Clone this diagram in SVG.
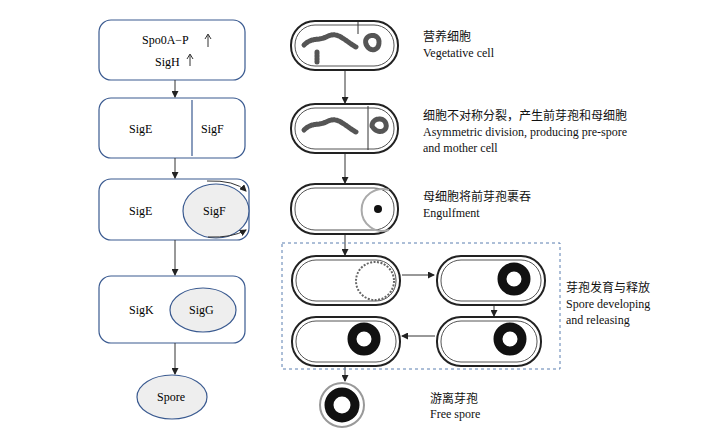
<svg xmlns="http://www.w3.org/2000/svg" width="710" height="441" viewBox="0 0 710 441">
<style>
.box{fill:#fff;stroke:#3a5a90;stroke-width:1.2}
.ell{fill:#eeeeee;stroke:#3a5a90;stroke-width:1.2}
.t{font-family:"Liberation Serif","Noto Sans CJK SC",serif;font-size:12px;fill:#000}
.c{font-family:"Liberation Serif","Noto Sans CJK SC",serif;font-size:12px;fill:#111}
.ln{stroke:#333;stroke-width:1;fill:none}
.cell{fill:#fff;stroke:#222;stroke-width:2}
.cellin{fill:none;stroke:#555;stroke-width:1}
.blob{fill:none;stroke:#555;stroke-width:5;stroke-dasharray:2 1;stroke-linecap:round}
.spore{fill:#fff;stroke:#111;stroke-width:9}
</style>
<defs>
<marker id="a" markerWidth="7" markerHeight="7" refX="6" refY="3.5" orient="auto" markerUnits="userSpaceOnUse"><path d="M0,0L7,3.5L0,7z" fill="#222"/></marker>
</defs>
<g id="n1"><rect class="box" x="99" y="20" width="146" height="60" rx="12"/>
<text class="t" x="142" y="44">Spo0A−P</text><text class="t" x="155" y="66">SigH</text>
<path class="ln" d="M208,47V35M205,39l3,-5 3,5M190,66V55M187,59l3,-5 3,5"/></g>
<g id="n2"><rect class="box" x="99" y="98" width="146" height="60" rx="12"/><line class="box" x1="192" y1="100" x2="192" y2="156"/>
<text class="t" x="129" y="133">SigE</text><text class="t" x="201" y="133">SigF</text></g>
<g id="n3"><rect class="box" x="99" y="179" width="150" height="61" rx="12"/>
<ellipse class="ell" cx="216" cy="211" rx="33" ry="27"/>
<text class="t" x="129" y="215">SigE</text><text class="t" x="203" y="215">SigF</text>
<path class="ln" d="M207,181Q235,180 246,191" marker-end="url(#a)"/><path class="ln" d="M208,237Q232,238 246,230" marker-end="url(#a)"/></g>
<g id="n4"><rect class="box" x="99" y="276" width="146" height="67" rx="12"/>
<ellipse class="ell" cx="203" cy="310" rx="33" ry="22"/>
<text class="t" x="129" y="314">SigK</text><text class="t" x="189" y="314">SigG</text></g>
<g id="n5"><ellipse class="ell" cx="172" cy="397" rx="35" ry="22"/><text class="t" x="157" y="401">Spore</text></g>
<g id="connectors">
<line class="ln" x1="175" y1="80" x2="175" y2="97" marker-end="url(#a)"/>
<line class="ln" x1="175" y1="158" x2="175" y2="178" marker-end="url(#a)"/>
<line class="ln" x1="175" y1="240" x2="175" y2="275" marker-end="url(#a)"/>
<line class="ln" x1="175" y1="343" x2="175" y2="374" marker-end="url(#a)"/>
<line class="ln" x1="345" y1="71" x2="345" y2="103" marker-end="url(#a)"/>
<line class="ln" x1="345" y1="154" x2="345" y2="183" marker-end="url(#a)"/>
<line class="ln" x1="345" y1="235" x2="345" y2="255" marker-end="url(#a)"/>
<line class="ln" x1="402" y1="275" x2="434" y2="275" marker-end="url(#a)"/>
<line class="ln" x1="494" y1="306" x2="494" y2="316" marker-end="url(#a)"/>
<line class="ln" x1="435" y1="336" x2="402" y2="336" marker-end="url(#a)"/>
<line class="ln" x1="345" y1="366" x2="345" y2="381" marker-end="url(#a)"/>
</g>
<rect x="282" y="243" width="278" height="126" fill="none" stroke="#5a7fb0" stroke-dasharray="3 3"/>
<g id="c1"><rect class="cell" x="291" y="21" width="107" height="49" rx="24"/><rect class="cellin" x="295" y="25" width="99" height="41" rx="20"/>
<path class="blob" d="M304,45c8,-8 14,-4 22,-8s12,-2 18,2 8,6 12,8M317,52v10M366,44c-3,-10 13,-12 13,-2s-10,10 -13,2z"/><path class="ln" d="M358,22v12" stroke-width="2"/></g>
<g id="c2"><rect class="cell" x="291" y="104" width="107" height="49" rx="24"/><rect class="cellin" x="295" y="108" width="99" height="41" rx="20"/>
<path class="blob" d="M304,130c8,-8 14,-4 22,-8s12,-2 18,2 8,6 12,8M372,126c0,-8 12,-10 14,-2s-9,11 -14,2z"/><path class="ln" d="M368,106v44" stroke-width="2"/></g>
<g id="c3"><rect class="cell" x="291" y="184" width="107" height="50" rx="24"/><rect class="cellin" x="295" y="188" width="99" height="42" rx="20"/>
<path d="M389,190a21,21 0 1 0 0,40" fill="none" stroke="#aaa" stroke-width="2"/><circle cx="378" cy="209" r="4" fill="#111"/></g>
<g id="c4"><rect class="cell" x="292" y="256" width="108" height="49" rx="24"/><rect class="cellin" x="296" y="260" width="100" height="41" rx="20"/>
<circle cx="375" cy="281" r="19" fill="none" stroke="#666" stroke-width="2" stroke-dasharray="2 1.5"/></g>
<g id="c5"><rect class="cell" x="437" y="256" width="108" height="49" rx="24"/><rect class="cellin" x="441" y="260" width="100" height="41" rx="20"/>
<circle cx="514" cy="279" r="12" class="spore"/></g>
<g id="c6"><rect class="cell" x="437" y="317" width="104" height="49" rx="24"/><rect class="cellin" x="441" y="321" width="96" height="41" rx="20"/>
<circle cx="510" cy="339" r="12" class="spore"/></g>
<g id="c7"><rect class="cell" x="292" y="317" width="108" height="49" rx="24"/><rect class="cellin" x="296" y="321" width="100" height="41" rx="20"/>
<circle cx="364" cy="339" r="12" class="spore"/></g>
<g id="c8"><circle cx="342" cy="405" r="22" fill="#fff" stroke="#999" stroke-width="2"/><circle cx="342" cy="405" r="13" class="spore"/></g>
<g class="c">
<text x="423" y="41">营养细胞</text><text x="423" y="57">Vegetative cell</text>
<text x="423" y="120">细胞不对称分裂，产生前芽孢和母细胞</text><text x="423" y="136">Asymmetric division, producing pre-spore</text><text x="423" y="152">and mother cell</text>
<text x="423" y="201">母细胞将前芽孢裹吞</text><text x="423" y="217">Engulfment</text>
<text x="566" y="292">芽孢发育与释放</text><text x="566" y="308">Spore developing</text><text x="566" y="324">and releasing</text>
<text x="430" y="403">游离芽孢</text><text x="430" y="418">Free spore</text>
</g>
</svg>
